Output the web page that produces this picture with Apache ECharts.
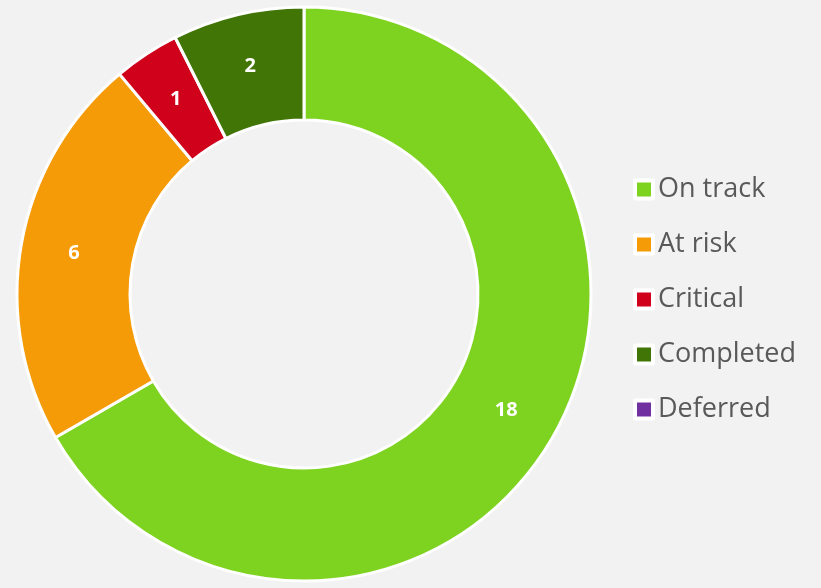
<!DOCTYPE html>
<html>
<head>
<meta charset="utf-8">
<script src="https://cdn.jsdelivr.net/npm/echarts@6/dist/echarts.min.js"></script>
<style>
  html, body { margin: 0; padding: 0; background: #f2f2f2; }
  #main { width: 821px; height: 588px; }
</style>
</head>
<body>
<div id="main"></div>
<script>
// status categories and counts
var categories = ['On track', 'At risk', 'Critical', 'Completed', 'Deferred'];
var counts = [18, 6, 1, 2, 0];
var colors = ['#7ed321', '#f59b07', '#d0021b', '#417505', '#7030a0'];

var pieData = categories.map(function (name, i) {
    var item = {name: name, value: counts[i], itemStyle: {color: colors[i]}};
    if (counts[i] === 0) item.itemStyle.borderWidth = 0;
    return item;
});

var myChart = echarts.init(document.getElementById('main'));
myChart.setOption({
    backgroundColor: '#f2f2f2',
    animation: false,
    legend: {
        orient: 'vertical',
        left: 628,
        top: 171,
        itemGap: 28,
        itemWidth: 18,
        itemHeight: 18,
        icon: 'rect',
        itemStyle: {borderColor: '#ffffff', borderWidth: 4},
        textStyle: {fontFamily: 'Open Sans', fontSize: 27, color: '#595959'},
        data: categories
    },
    series: [
        {
            type: 'pie',
            center: [304, 294],
            radius: [174, 287],
            startAngle: 90,
            clockwise: true,
            avoidLabelOverlap: false,
            itemStyle: {borderColor: '#ffffff', borderWidth: 3},
            label: {
                show: true,
                position: 'inside',
                color: '#ffffff',
                fontFamily: 'Open Sans',
                fontWeight: 'bold',
                fontSize: 20,
                formatter: function (p) { return p.value === 0 ? '' : String(p.value); }
            },
            labelLine: {show: false},
            emphasis: {disabled: true},
            data: pieData
        }
    ]
});
</script>
</body>
</html>
